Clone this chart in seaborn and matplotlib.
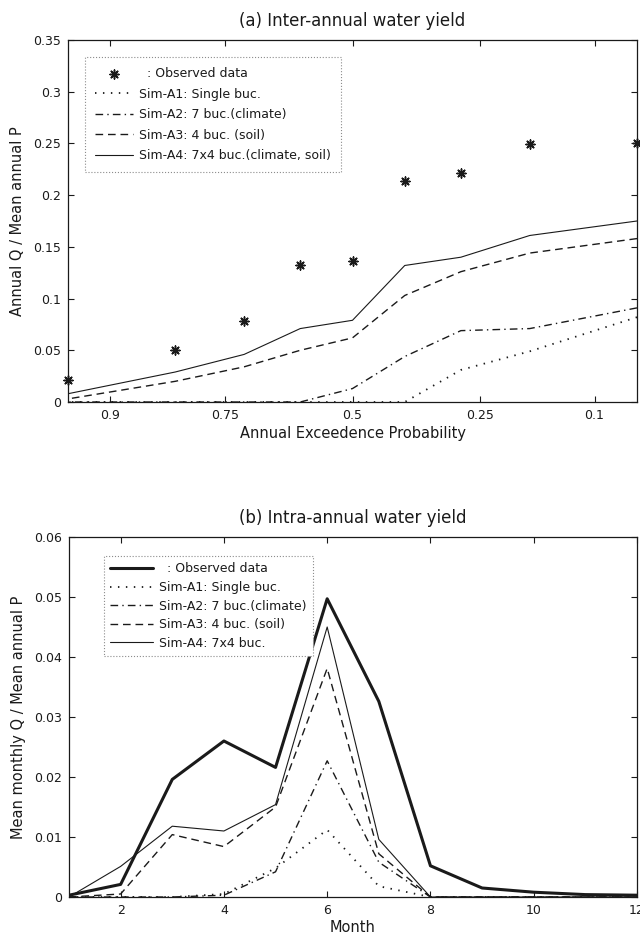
import math
import numpy as np
import matplotlib
matplotlib.use('Agg')
from matplotlib import pyplot as plt
from matplotlib.ticker import FuncFormatter
import seaborn as sns

# %%
# (a) inter-annual: exceedence probability of each year
exceed_p = [0.934, 0.826, 0.717, 0.609, 0.5, 0.391, 0.283, 0.174, 0.066]
annual_obs = [0.021, 0.050, 0.078, 0.132, 0.136, 0.214, 0.221, 0.249, 0.250]
annual_a1 = [0, 0, 0, 0, 0, 0, 0.031, 0.049, 0.082]
annual_a2 = [0, 0, 0, 0, 0.013, 0.044, 0.069, 0.071, 0.091]
annual_a3 = [0.003, 0.020, 0.034, 0.050, 0.062, 0.103, 0.126, 0.144, 0.158]
annual_a4 = [0.008, 0.029, 0.046, 0.071, 0.079, 0.132, 0.140, 0.161, 0.175]
exceed_ticks = [0.9, 0.75, 0.5, 0.25, 0.1]

# (b) intra-annual: mean monthly values
months = [1, 2, 3, 4, 5, 6, 7, 8, 9, 10, 11, 12]
monthly_obs = [0.0003, 0.0021, 0.0196, 0.0260, 0.0216, 0.0497, 0.0326, 0.0052, 0.0015, 0.0008, 0.0004, 0.0003]
monthly_a1 = [0, 0, 0, 0.0005, 0.0048, 0.0112, 0.0018, 0, 0, 0, 0, 0]
monthly_a2 = [0, 0, 0, 0.0003, 0.0042, 0.0227, 0.0058, 0, 0, 0, 0, 0]
monthly_a3 = [0, 0.0005, 0.0104, 0.0084, 0.0150, 0.0381, 0.0072, 0, 0, 0, 0, 0]
monthly_a4 = [0, 0.0051, 0.0118, 0.0110, 0.0154, 0.0450, 0.0096, 0, 0, 0, 0, 0]

DOT = (0, (0.8, 3.6))
DASH = (0, (5.5, 3.5))
DASHDOT = (0, (5.5, 3, 1, 3))

_erf = np.vectorize(math.erf, otypes=[float])


# %%
def norm_cdf(z):
    z = np.asarray(z, dtype=float)
    if z.size == 0:
        return z
    return 0.5 * (1.0 + _erf(z / np.sqrt(2.0)))


def probit(p):
    '''
    Inverse normal cdf by bisection (no scipy in here)
    '''
    p = np.clip(np.asarray(p, dtype=float), 1e-9, 1 - 1e-9)
    if p.size == 0:
        return p
    lo = np.full(p.shape, -8.0)
    hi = np.full(p.shape, 8.0)
    for _ in range(55):
        mid = 0.5 * (lo + hi)
        below = norm_cdf(mid) < p
        lo = np.where(below, mid, lo)
        hi = np.where(below, hi, mid)
    return 0.5 * (lo + hi)


def style_axes(ax):
    ax.tick_params(direction='in', length=4, width=0.8, top=True, right=True,
                   labelsize=9, pad=5, colors='k')
    for s in ax.spines.values():
        s.set_visible(True)
        s.set_linewidth(0.9)
        s.set_color('k')
    ax.yaxis.set_major_formatter(FuncFormatter(lambda v, pos: '%g' % round(v, 4)))


def add_legend(ax, order, anchor, hlen, lspace, bpad):
    handles, labels = ax.get_legend_handles_labels()
    lookup = dict(zip(labels, handles))
    leg = ax.legend([lookup[l] for l in order], order, loc='upper left',
                    bbox_to_anchor=anchor, fontsize=9, handlelength=hlen,
                    handletextpad=0.5, labelspacing=lspace, borderpad=bpad,
                    frameon=True, fancybox=False, framealpha=1,
                    edgecolor='0.55', borderaxespad=0, labelcolor='k')
    leg.get_frame().set_linestyle(':')
    leg.get_frame().set_linewidth(0.8)
    return leg


# %%
sns.set_theme(style='ticks')
plt.rcParams['font.family'] = ['DejaVu Sans']
plt.rcParams['text.color'] = 'k'
plt.rcParams['axes.labelcolor'] = 'k'

fig = plt.figure(figsize=(6.4, 9.38), dpi=100)
ax1 = fig.add_axes([68 / 640, 1 - 402 / 938, 569 / 640, 362 / 938])
ax2 = fig.add_axes([69 / 640, 1 - 897 / 938, 568 / 640, 360 / 938])

# ---- (a) Inter-annual water yield
lab_obs_a = '  : Observed data'
lab_a = ['Sim-A1: Single buc.', 'Sim-A2: 7 buc.(climate)',
         'Sim-A3: 4 buc. (soil)', 'Sim-A4: 7x4 buc.(climate, soil)']

sns.lineplot(x=exceed_p, y=annual_a1, ax=ax1, color='k', lw=1.3, linestyle=DOT, label=lab_a[0])
sns.lineplot(x=exceed_p, y=annual_a2, ax=ax1, color='k', lw=1.0, linestyle=DASHDOT, label=lab_a[1])
sns.lineplot(x=exceed_p, y=annual_a3, ax=ax1, color='k', lw=1.0, linestyle=DASH, label=lab_a[2])
sns.lineplot(x=exceed_p, y=annual_a4, ax=ax1, color='0.1', lw=0.8, linestyle='-', label=lab_a[3])
sns.scatterplot(x=exceed_p, y=annual_obs, ax=ax1, marker=(8, 2, 0), color='k',
                s=42, linewidth=1.1, label=lab_obs_a, zorder=4, clip_on=False)

ax1.set_xscale('function', functions=(probit, norm_cdf))
ax1.set_xlim(max(exceed_p), min(exceed_p))
ax1.set_ylim(0, 0.35)
ax1.set_xticks(exceed_ticks)
ax1.set_xticklabels([('%g' % t) for t in exceed_ticks])
ax1.set_yticks(np.arange(0, 0.351, 0.05))
ax1.minorticks_off()
style_axes(ax1)
ax1.set_title('(a) Inter-annual water yield', fontsize=12, pad=10, color='k')
ax1.set_xlabel('Annual Exceedence Probability', fontsize=10.5, labelpad=3)
ax1.set_ylabel('Annual Q / Mean annual P', fontsize=10.5, labelpad=6)
add_legend(ax1, [lab_obs_a] + lab_a, (0.03, 0.953), 3.0, 0.6, 0.8)

# ---- (b) Intra-annual water yield
lab_obs_b = '  : Observed data'
lab_b = ['Sim-A1: Single buc.', 'Sim-A2: 7 buc.(climate)',
         'Sim-A3: 4 buc. (soil)', 'Sim-A4: 7x4 buc.']

sns.lineplot(x=months, y=monthly_a1, ax=ax2, color='k', lw=1.3, linestyle=DOT, label=lab_b[0])
sns.lineplot(x=months, y=monthly_a2, ax=ax2, color='k', lw=1.0, linestyle=DASHDOT, label=lab_b[1])
sns.lineplot(x=months, y=monthly_a3, ax=ax2, color='k', lw=1.0, linestyle=DASH, label=lab_b[2])
sns.lineplot(x=months, y=monthly_a4, ax=ax2, color='0.1', lw=0.8, linestyle='-', label=lab_b[3])
sns.lineplot(x=months, y=monthly_obs, ax=ax2, color='k', lw=2.2, linestyle='-', label=lab_obs_b)

ax2.set_xlim(1, 12)
ax2.set_ylim(0, 0.06)
ax2.set_xticks([2, 4, 6, 8, 10, 12])
ax2.set_yticks(np.arange(0, 0.0601, 0.01))
style_axes(ax2)
ax2.set_title('(b) Intra-annual water yield', fontsize=12, pad=10, color='k')
ax2.set_xlabel('Month', fontsize=10.5, labelpad=2)
ax2.set_ylabel('Mean monthly Q / Mean annual P', fontsize=10.5, labelpad=6)
add_legend(ax2, [lab_obs_b] + lab_b, (0.062, 0.947), 3.4, 0.45, 0.5)

fig.savefig('out.png', dpi=100)
